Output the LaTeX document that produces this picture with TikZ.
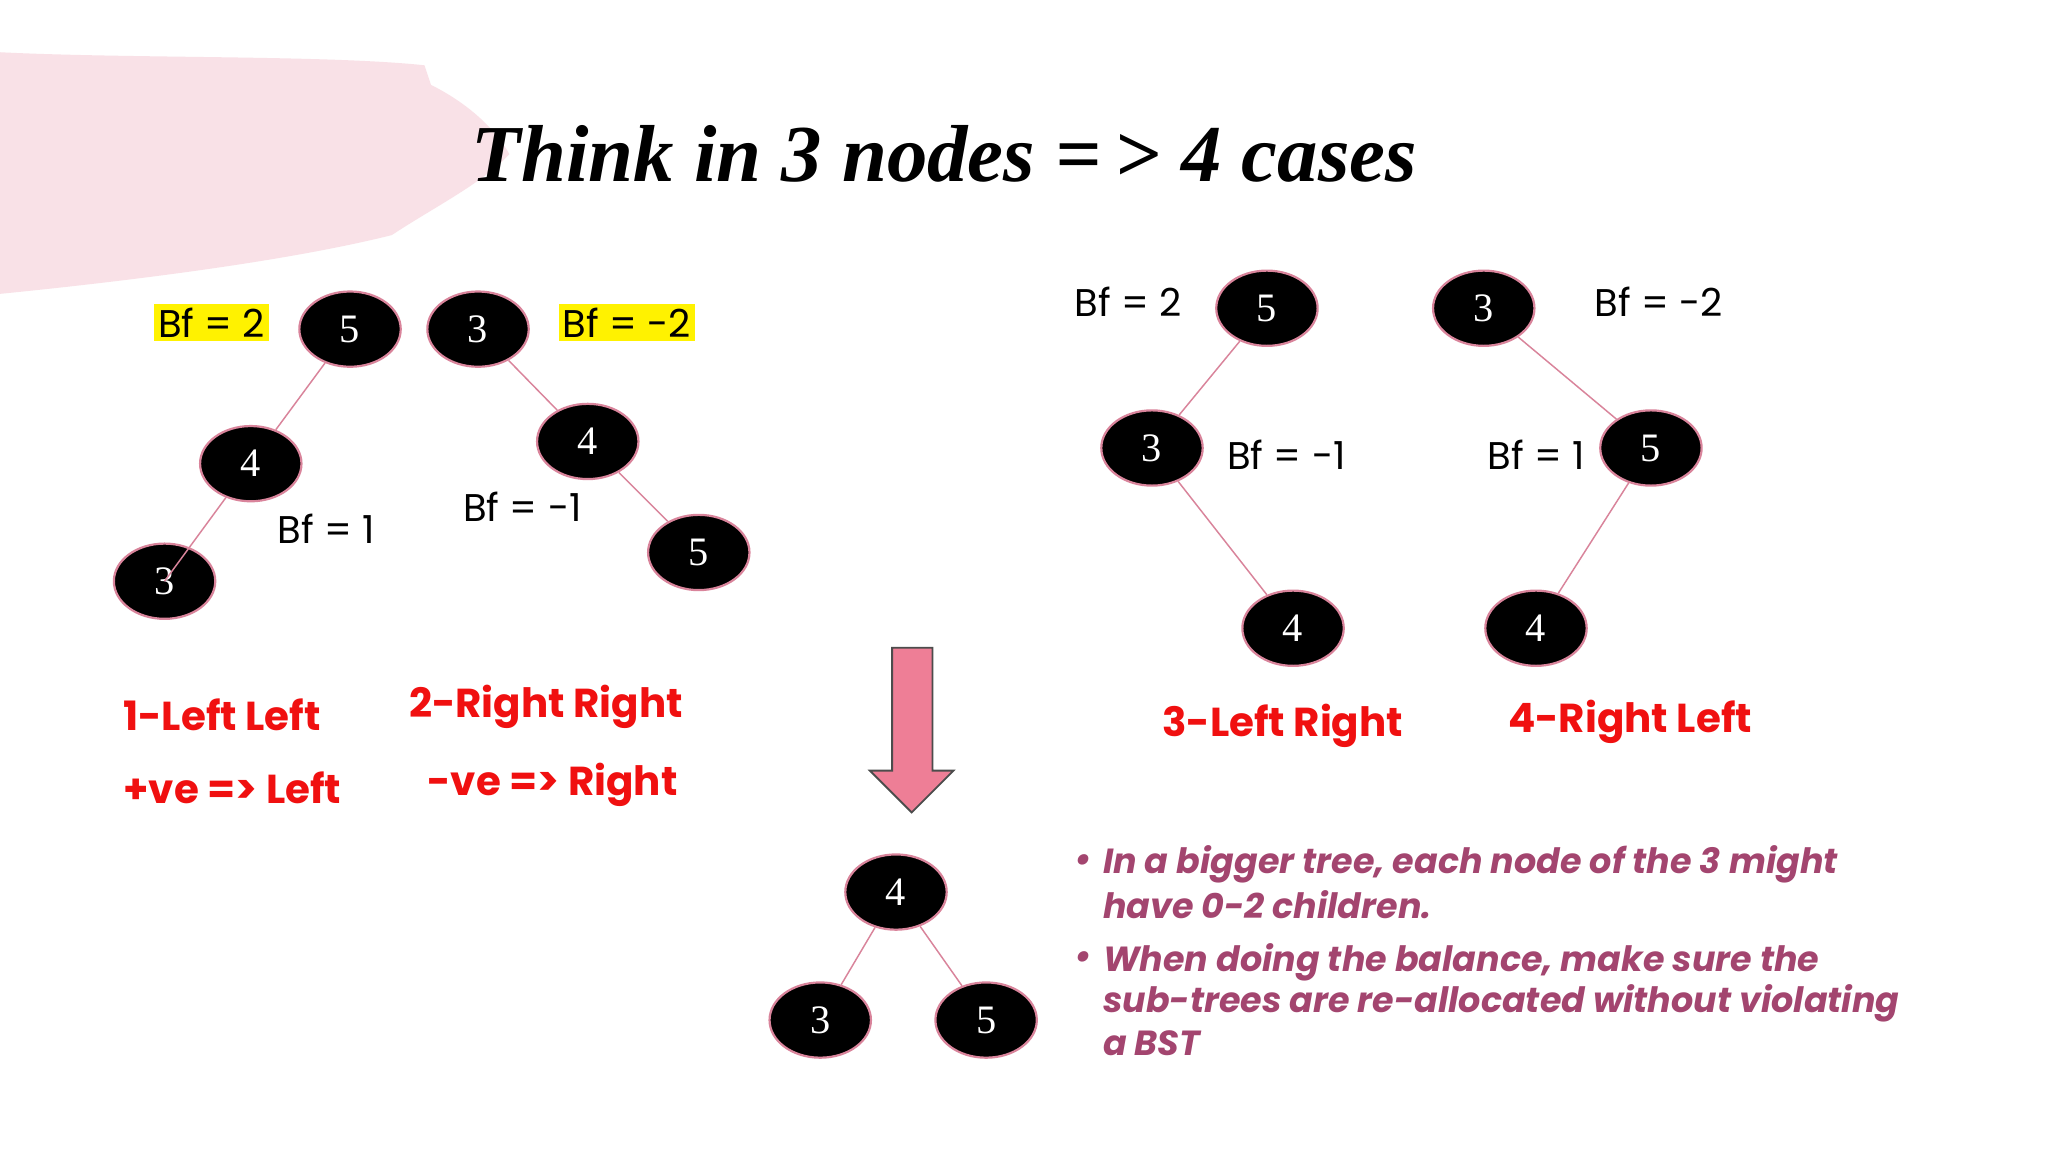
\documentclass[tikz,border=0pt]{standalone}
\usepackage{fontspec}
\setmainfont{Poppins}
\newfontfamily\titlefont{Liberation Serif}
\newfontfamily\numfont{Liberation Serif}
\usetikzlibrary{shapes.arrows}
\definecolor{blob}{HTML}{F9E1E7}
\definecolor{edgec}{HTML}{D9849B}
\definecolor{redlab}{HTML}{F01010}
\definecolor{bullc}{HTML}{A3456F}
\definecolor{arrc}{HTML}{EE7E96}
\tikzset{
 tn/.style={ellipse, fill=black, draw=edgec, line width=0.6pt, minimum width=0.97cm, minimum height=0.72cm, inner sep=0pt, text=white, font=\numfont\fontsize{11}{11}\selectfont},
 ed/.style={draw=edgec, line width=0.4pt},
 bf/.style={font=\fontsize{10.5}{12}\selectfont, inner sep=1pt},
 hl/.style={bf, fill=yellow},
 cas/.style={font=\bfseries\fontsize{11}{13}\selectfont, text=redlab},
 bl/.style={font=\bfseries\itshape\fontsize{9.5}{11}\selectfont, text=bullc, anchor=west, inner sep=0pt},
}
\usetikzlibrary{shapes.geometric}
\begin{document}
\begin{tikzpicture}[x=0.0125cm,y=-0.0125cm]
\useasboundingbox (0,0) rectangle (1568,882);
\fill[white] (0,0) rectangle (1568,882);
\fill[blob] (0,40) .. controls (100,45) and (250,42) .. (325,50) -- (330,65) .. controls (360,80) and (380,100) .. (390,118) .. controls (370,140) and (330,160) .. (300,180) .. controls (220,200) and (100,215) .. (0,225) -- cycle;
\node[font=\titlefont\bfseries\itshape\fontsize{22}{24}\selectfont] (title) at (723,118) {Think in 3 nodes =\,> 4 cases};
% tree 1
\node[tn] (a5) at (268,252) {5};
\node[tn] (a4) at (192,355) {4};
\node[tn] (a3) at (126,445) {3};
\draw[ed] (a5) -- (a4); \draw[ed] (a4) -- (a3.center);
\node[hl] (ab1) at (162,247) {Bf = 2};
\node[bf] (ab2) at (250,405) {Bf = 1};
% tree 2
\node[tn] (b3) at (366,252) {3};
\node[tn] (b4) at (450,338) {4};
\node[tn] (b5) at (535,423) {5};
\draw[ed] (b3) -- (b4); \draw[ed] (b4) -- (b5);
\node[hl] (bb1) at (480,247) {Bf = -2};
\node[bf] (bb2) at (400,388) {Bf = -1};
% tree 3
\node[tn] (c5) at (970,236) {5};
\node[tn] (c3) at (882,343) {3};
\node[tn] (c4) at (990,481) {4};
\draw[ed] (c5) -- (c3); \draw[ed] (c3) -- (c4);
\node[bf] (cb1) at (864,231) {Bf = 2};
\node[bf] (cb2) at (985,348) {Bf = -1};
% tree 4
\node[tn] (d3) at (1136,236) {3};
\node[tn] (d5) at (1264,343) {5};
\node[tn] (d4) at (1176,481) {4};
\draw[ed] (d3) -- (d5); \draw[ed] (d5) -- (d4);
\node[bf] (db1) at (1270,231) {Bf = -2};
\node[bf] (db2) at (1176,348) {Bf = 1};
% case labels
\node[cas] (l1) at (170,547) {1-Left Left};
\node[cas] (l1b) at (178,603) {+ve => Left};
\node[cas] (l2) at (418,541) {2-Right Right};
\node[cas] (l2b) at (423,601) {-ve => Right};
\node[cas] (l3) at (982,556) {3-Left Right};
\node[cas] (l4) at (1248,553) {4-Right Left};
% arrow
\draw[fill=arrc, draw=black!70, line width=0.5pt] (683,496) -- (714,496) -- (714,590) -- (730,590) -- (698,622) -- (666,590) -- (683,590) -- cycle;
% result tree
\node[tn] (e4) at (686,683) {4};
\node[tn] (e3) at (628,781) {3};
\node[tn] (e5) at (755,781) {5};
\draw[ed] (e4) -- (e3); \draw[ed] (e4) -- (e5);
% bullets
\node[bl] (bu1) at (822,661) {\textbullet};
\node[bl] (t1) at (844,662) {In a bigger tree, each node of the 3 might};
\node[bl] (t2) at (844,693) {have 0-2 children.};
\node[bl] (bu2) at (822,735) {\textbullet};
\node[bl] (t3) at (844,737) {When doing the balance, make sure the};
\node[bl] (t4) at (844,768) {sub-trees are re-allocated without violating};
\node[bl] (t5) at (844,799) {a BST};
\end{tikzpicture}
\end{document}
